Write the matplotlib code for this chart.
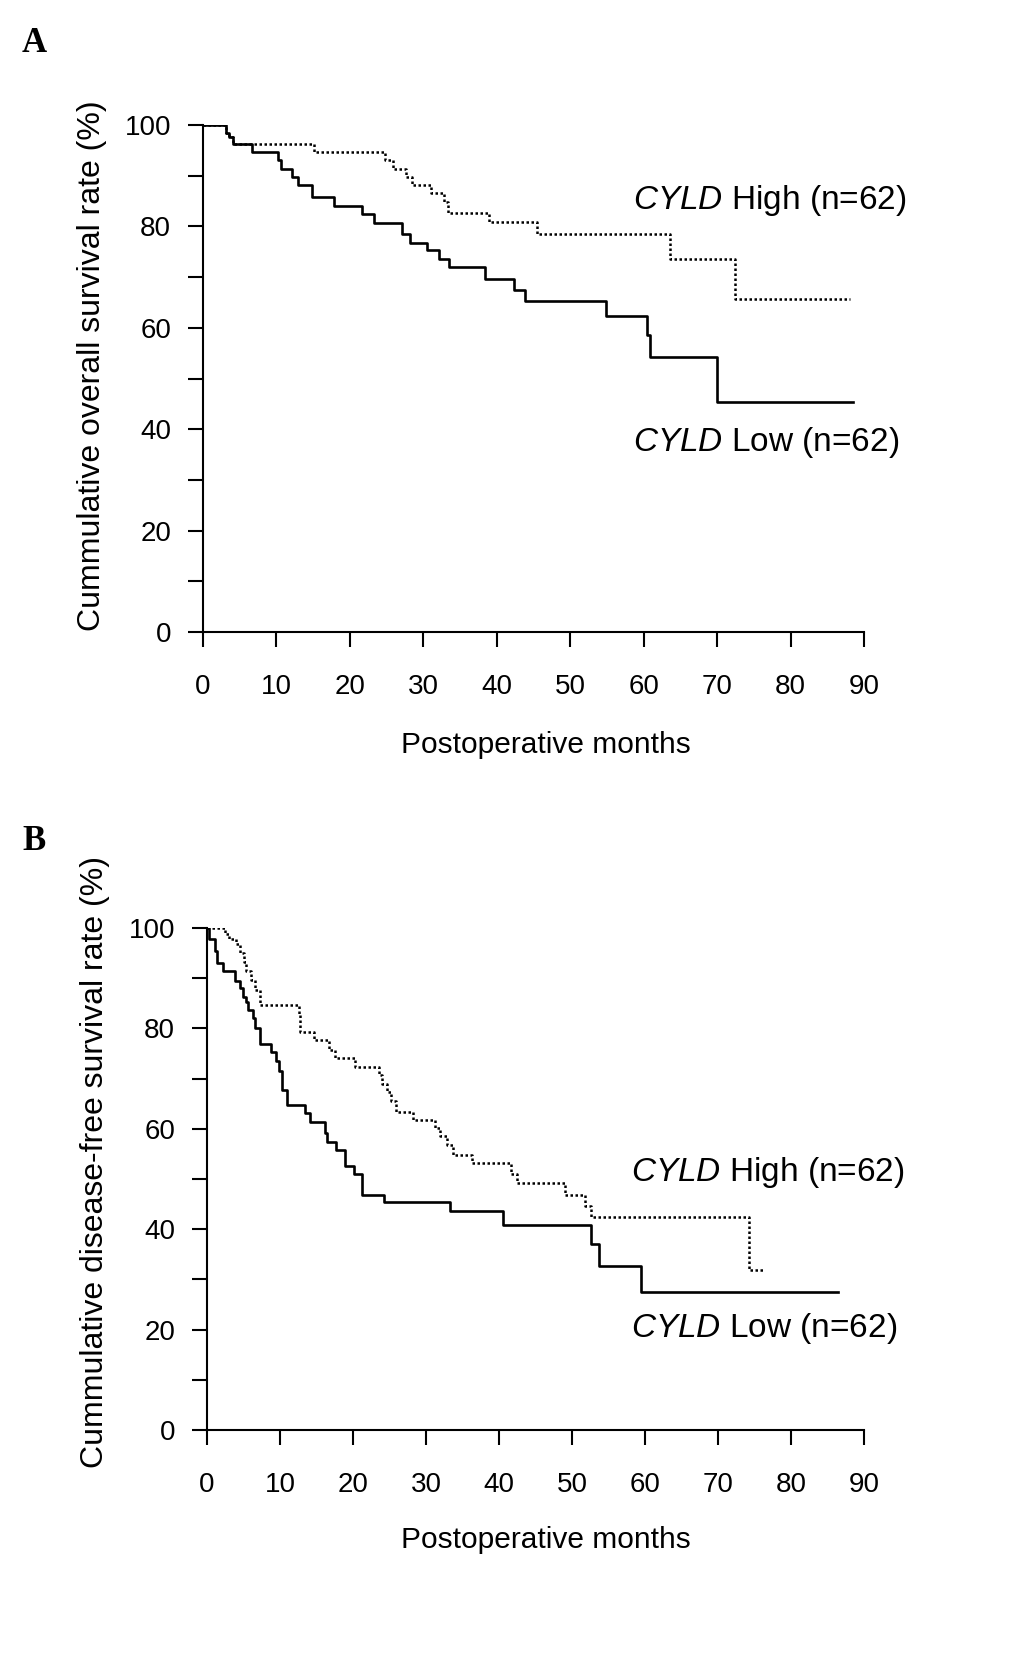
import matplotlib
matplotlib.use("Agg")

import matplotlib.pyplot as plt
from matplotlib.ticker import MultipleLocator

plt.rcParams["font.family"] = ["Liberation Sans", "DejaVu Sans"]
plt.rcParams["mathtext.fontset"] = "custom"
plt.rcParams["mathtext.it"] = "Liberation Sans:italic"
plt.rcParams["mathtext.rm"] = "Liberation Sans"

# ── Data ─────────────────────────────────────────────────────────────────────

# A: overall survival
os_low_t = [0, 3.1, 3.6, 4.15, 6.65, 10.2, 10.6, 12.1, 13.0, 14.8, 17.9, 21.6,
            23.3, 27.1, 28.2, 30.5, 32.1, 33.5, 38.4, 42.3, 43.9, 54.9, 60.5,
            60.9, 70.0, 88.5]
os_low_s = [100, 98.4, 97.7, 96.3, 94.6, 93.1, 91.4, 89.7, 88.1, 85.8, 84.1,
            82.4, 80.6, 78.5, 76.8, 75.3, 73.6, 71.9, 69.6, 67.5, 65.2, 62.4,
            58.5, 54.2, 45.3, 45.3]

os_high_t = [0, 3.1, 3.6, 4.15, 15.1, 24.8, 25.9, 27.6, 28.4, 31.1, 32.8, 33.4,
             38.9, 45.5, 63.6, 72.4, 88.1]
os_high_s = [100, 98.4, 97.7, 96.3, 94.6, 93.1, 91.4, 89.7, 88.1, 86.5, 84.8,
             82.6, 80.8, 78.5, 73.5, 65.7, 65.7]

# B: disease-free survival
dfs_low_t = [0, 0.29, 1.04, 1.33, 2.2, 3.77, 4.52, 4.93, 5.39, 5.68, 6.26, 6.55,
             7.25, 8.75, 9.45, 9.91, 10.3, 10.9, 13.4, 14.1, 16.1, 16.5, 17.7,
             18.9, 20.2, 21.3, 24.2, 33.3, 40.6, 52.6, 53.7, 59.5, 86.4]
dfs_low_s = [100, 97.8, 95.4, 93.1, 91.4, 89.5, 88.0, 86.3, 85.3, 83.6, 82.0,
             80.1, 76.9, 75.2, 73.5, 71.5, 67.8, 64.8, 63.1, 61.4, 59.1, 57.4,
             55.7, 52.5, 51.0, 46.9, 45.4, 43.6, 40.9, 37.0, 32.7, 27.5, 27.5]

dfs_high_t = [0, 2.5, 3.07, 3.94, 4.52, 5.1, 5.39, 5.97, 6.55, 7.25, 12.6, 12.8,
              14.7, 16.7, 17.6, 20.3, 23.5, 24.0, 24.7, 25.2, 25.9, 28.2, 31.2,
              31.9, 32.9, 33.7, 36.3, 41.6, 42.5, 49.0, 51.8, 52.6, 74.2, 76.1]
dfs_high_s = [100, 98.9, 97.8, 96.8, 95.0, 93.2, 91.4, 89.7, 87.7, 84.7, 82.9,
              79.3, 77.6, 75.7, 74.1, 72.4, 70.8, 69.0, 67.3, 65.5, 63.4, 61.8,
              60.1, 58.5, 56.7, 54.8, 53.1, 51.0, 49.3, 46.9, 44.6, 42.4, 31.8,
              31.8]

x_ticks = list(range(0, 100, 10))
y_ticks = list(range(0, 120, 20))

W, H = 1033, 1655


def fx(px):
    return px / W


def fy(py):
    return 1 - py / H


def km_panel(ax, low, high):
    ax.step(low[0], low[1], where="post", color="black", lw=1.9)
    ax.step(high[0], high[1], where="post", color="black", lw=1.8,
            linestyle=(0, (1, 1)))
    ax.set_xlim(0, 90)
    ax.set_ylim(0, 100)
    for side in ("top", "right"):
        ax.spines[side].set_visible(False)
    for side in ("left", "bottom"):
        ax.spines[side].set_linewidth(1.5)
        ax.spines[side].set_capstyle("projecting")
    ax.set_xticks(x_ticks)
    ax.set_yticks(y_ticks)
    ax.yaxis.set_minor_locator(MultipleLocator(10))
    ax.tick_params(axis="both", which="both", direction="out", length=11,
                   width=1.5, labelsize=20)
    ax.tick_params(axis="x", pad=19)
    ax.tick_params(axis="y", pad=12)
    ax.patch.set_alpha(0)


fig = plt.figure(figsize=(W / 100, H / 100), dpi=100)

ax_a = fig.add_axes([fx(203), fy(632), fx(864) - fx(203), fy(125) - fy(632)])
km_panel(ax_a, (os_low_t, os_low_s), (os_high_t, os_high_s))

ax_b = fig.add_axes([fx(207), fy(1430), fx(864) - fx(207), fy(928) - fy(1430)])
km_panel(ax_b, (dfs_low_t, dfs_low_s), (dfs_high_t, dfs_high_s))

# axis labels
fig.text(fx(546), fy(745), "Postoperative months", fontsize=21.5,
         ha="center", va="center")
fig.text(fx(546), fy(1540), "Postoperative months", fontsize=21.5,
         ha="center", va="center")
fig.text(fx(92), fy(366), "Cummulative overall survival rate (%)",
         rotation=90, fontsize=23, ha="center", va="center")
fig.text(fx(95), fy(1162), "Cummulative disease-free survival rate (%)",
         rotation=90, fontsize=23, ha="center", va="center")

# group annotations
ann = dict(fontsize=24, ha="left", va="center")
fig.text(fx(633), fy(201), r"$\mathit{CYLD}$ High (n=62)", **ann)
fig.text(fx(633), fy(443), r"$\mathit{CYLD}$ Low (n=62)", **ann)
fig.text(fx(631), fy(1173), r"$\mathit{CYLD}$ High (n=62)", **ann)
fig.text(fx(631), fy(1328), r"$\mathit{CYLD}$ Low (n=62)", **ann)

# panel letters
let = dict(fontsize=25, fontweight="bold", family="Liberation Serif",
           ha="center", va="center")
fig.text(fx(34), fy(43), "A", **let)
fig.text(fx(34), fy(841), "B", **let)

fig.savefig("out.png", dpi=100)
